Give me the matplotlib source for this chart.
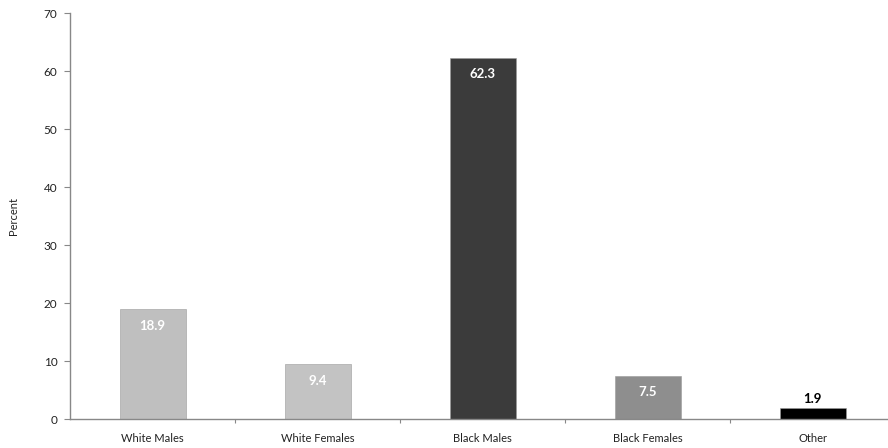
import matplotlib.pyplot as plt

# 数据
categories = ['White Males', 'White Females', 'Black Males', 'Black Females', 'Other']
percents = [18.9, 9.4, 62.3, 7.5, 1.9]
colors = ['#bfbfbf', '#c3c3c3', '#3b3b3b', '#8e8e8e', '#000000']

plt.rcParams['font.family'] = ['Lato', 'DejaVu Sans']

fig = plt.figure(figsize=(8.88, 4.48), dpi=100)
ax = fig.add_axes([70 / 888, 29 / 448, 825 / 888, 406 / 448])

x = range(len(categories))
bars = ax.bar(x, percents, width=0.4, color=colors, edgecolor='#9a9a9a', linewidth=0.4)

# 数值标签
for i, (b, v) in enumerate(zip(bars, percents)):
    if v > 5:
        ax.text(b.get_x() + b.get_width() / 2, v - 1.8, f'{v}', ha='center', va='top',
                color='white', fontsize=9.5, fontweight='bold')
    else:
        ax.text(b.get_x() + b.get_width() / 2, v + 0.6, f'{v}', ha='center', va='bottom',
                color='black', fontsize=9.5, fontweight='bold')

ax.set_xlim(-0.5, len(categories) - 0.5)
ax.set_ylim(0, 70)
ax.set_yticks(range(0, 71, 10))
ax.set_xticks([i + 0.5 for i in range(len(categories) - 1)])
ax.set_xticklabels([])
ax.set_xticks(list(x), minor=True)
ax.set_xticklabels(categories, minor=True)
ax.tick_params(axis='x', which='minor', length=0, labelsize=8, pad=10, labelcolor='#222222')
ax.tick_params(axis='x', which='major', length=3, color='#888888')
ax.tick_params(axis='y', length=4, color='#888888', labelsize=8.5, pad=5, labelcolor='#222222')

ax.set_ylabel('Percent', fontsize=8, labelpad=18, color='#222222')

for s in ['top', 'right']:
    ax.spines[s].set_visible(False)
for s in ['left', 'bottom']:
    ax.spines[s].set_color('#888888')
    ax.spines[s].set_linewidth(1)

fig.savefig('out.png', dpi=100)
